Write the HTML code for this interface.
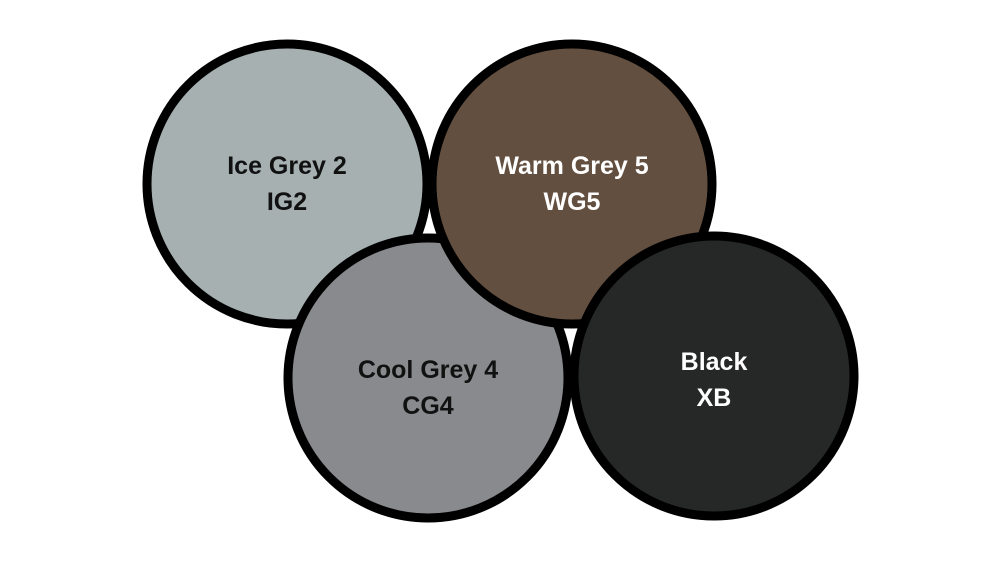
<!DOCTYPE html>
<html><head><style>
html,body{margin:0;padding:0;background:#fff;}
svg{display:block}
text{font-family:"Liberation Sans",sans-serif;font-weight:bold;font-size:25px;text-anchor:middle}
</style></head><body>
<svg width="1000" height="562" viewBox="0 0 1000 562">
<circle cx="287" cy="184" r="140" fill="#a6b0b1" stroke="#000" stroke-width="9"/>
<circle cx="428" cy="378" r="140" fill="#898a8d" stroke="#000" stroke-width="9"/>
<circle cx="572" cy="184" r="140" fill="#634f40" stroke="#000" stroke-width="9"/>
<circle cx="714" cy="376" r="140" fill="#262827" stroke="#000" stroke-width="9"/>
<text x="287" y="174" fill="#111">Ice Grey 2</text>
<text x="287" y="210" fill="#111">IG2</text>
<text x="572" y="174" fill="#fff">Warm Grey 5</text>
<text x="572" y="210" fill="#fff">WG5</text>
<text x="428" y="378" fill="#111">Cool Grey 4</text>
<text x="428" y="414" fill="#111">CG4</text>
<text x="714" y="370" fill="#fff">Black</text>
<text x="714" y="406" fill="#fff">XB</text>
</svg>
</body></html>
